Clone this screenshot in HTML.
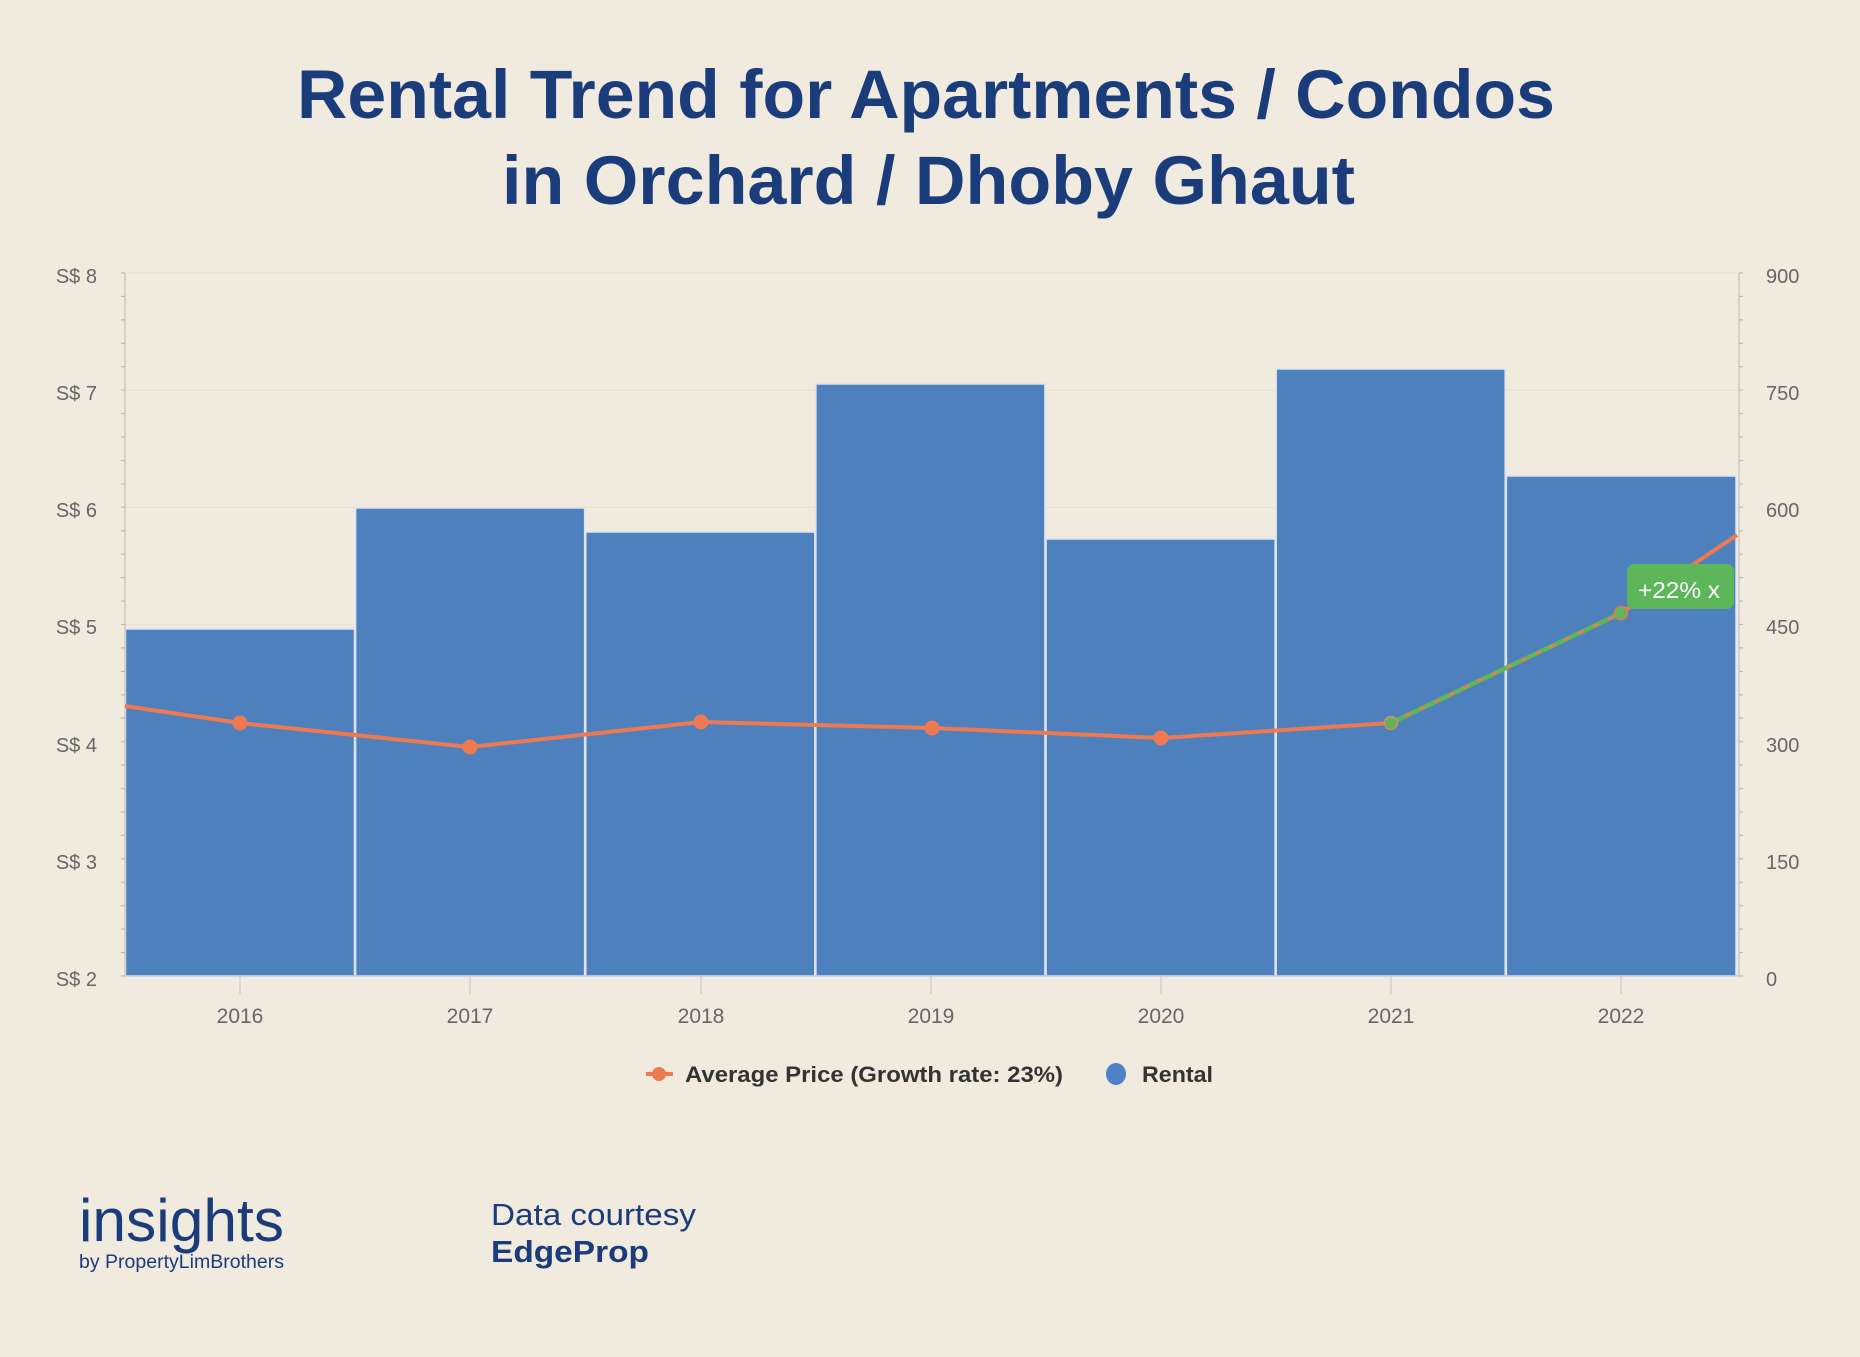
<!DOCTYPE html>
<html><head><meta charset="utf-8"><style>
html,body{margin:0;padding:0;background:#F0EADF;}
svg{display:block;}
</style></head><body>
<svg width="1860" height="1357" viewBox="0 0 1860 1357" xmlns="http://www.w3.org/2000/svg" font-family="'Liberation Sans', sans-serif">
<rect x="0" y="0" width="1860" height="1357" fill="#F0EADF"/>
<!-- Title -->
<text x="297" y="118" font-size="69" font-weight="bold" fill="#1B3C7B" textLength="1258" lengthAdjust="spacingAndGlyphs">Rental Trend for Apartments / Condos</text>
<text x="502" y="204" font-size="69" font-weight="bold" fill="#1B3C7B" textLength="853" lengthAdjust="spacingAndGlyphs">in Orchard / Dhoby Ghaut</text>

<!-- gridlines -->
<g stroke="#E6DFD2" stroke-width="1.2">
<line x1="125" y1="273" x2="1739" y2="273"/>
<line x1="125" y1="390.2" x2="1739" y2="390.2"/>
<line x1="125" y1="507.3" x2="1739" y2="507.3"/>
<line x1="125" y1="624.5" x2="1739" y2="624.5"/>
<line x1="125" y1="741.7" x2="1739" y2="741.7"/>
<line x1="125" y1="858.8" x2="1739" y2="858.8"/>
</g>

<!-- bars -->
<g fill="#4E80BE" stroke="#DCE5F0" stroke-width="1.5">
<rect x="125.5" y="629" width="229" height="347"/>
<rect x="355.6" y="508" width="229" height="468"/>
<rect x="585.8" y="532" width="229" height="444"/>
<rect x="815.9" y="384" width="229" height="592"/>
<rect x="1046.1" y="539" width="229" height="437"/>
<rect x="1276.2" y="369" width="229" height="607"/>
<rect x="1506.4" y="476" width="229.6" height="500"/>
</g>

<!-- axes -->
<g stroke="#C8C6C0" stroke-width="1.3">
<line x1="125" y1="273" x2="125" y2="976"/>
<line x1="1739" y1="273" x2="1739" y2="976"/>
</g>
<g stroke="#BDBAB3" stroke-width="1.2">
<line x1="121" y1="273" x2="125" y2="273"/><line x1="121" y1="296.4" x2="125" y2="296.4"/><line x1="121" y1="319.9" x2="125" y2="319.9"/><line x1="121" y1="343.3" x2="125" y2="343.3"/><line x1="121" y1="366.7" x2="125" y2="366.7"/><line x1="121" y1="390.2" x2="125" y2="390.2"/><line x1="121" y1="413.6" x2="125" y2="413.6"/><line x1="121" y1="437" x2="125" y2="437"/><line x1="121" y1="460.5" x2="125" y2="460.5"/><line x1="121" y1="483.9" x2="125" y2="483.9"/><line x1="121" y1="507.3" x2="125" y2="507.3"/><line x1="121" y1="530.8" x2="125" y2="530.8"/><line x1="121" y1="554.2" x2="125" y2="554.2"/><line x1="121" y1="577.6" x2="125" y2="577.6"/><line x1="121" y1="601.1" x2="125" y2="601.1"/><line x1="121" y1="624.5" x2="125" y2="624.5"/><line x1="121" y1="647.9" x2="125" y2="647.9"/><line x1="121" y1="671.4" x2="125" y2="671.4"/><line x1="121" y1="694.8" x2="125" y2="694.8"/><line x1="121" y1="718.2" x2="125" y2="718.2"/><line x1="121" y1="741.7" x2="125" y2="741.7"/><line x1="121" y1="765.1" x2="125" y2="765.1"/><line x1="121" y1="788.5" x2="125" y2="788.5"/><line x1="121" y1="812" x2="125" y2="812"/><line x1="121" y1="835.4" x2="125" y2="835.4"/><line x1="121" y1="858.8" x2="125" y2="858.8"/><line x1="121" y1="882.3" x2="125" y2="882.3"/><line x1="121" y1="905.7" x2="125" y2="905.7"/><line x1="121" y1="929.1" x2="125" y2="929.1"/><line x1="121" y1="952.6" x2="125" y2="952.6"/><line x1="121" y1="976" x2="125" y2="976"/>
</g>
<g stroke="#BDBAB3" stroke-width="1.2">
<line x1="1739" y1="273" x2="1743" y2="273"/><line x1="1739" y1="296.4" x2="1743" y2="296.4"/><line x1="1739" y1="319.9" x2="1743" y2="319.9"/><line x1="1739" y1="343.3" x2="1743" y2="343.3"/><line x1="1739" y1="366.7" x2="1743" y2="366.7"/><line x1="1739" y1="390.2" x2="1743" y2="390.2"/><line x1="1739" y1="413.6" x2="1743" y2="413.6"/><line x1="1739" y1="437" x2="1743" y2="437"/><line x1="1739" y1="460.5" x2="1743" y2="460.5"/><line x1="1739" y1="483.9" x2="1743" y2="483.9"/><line x1="1739" y1="507.3" x2="1743" y2="507.3"/><line x1="1739" y1="530.8" x2="1743" y2="530.8"/><line x1="1739" y1="554.2" x2="1743" y2="554.2"/><line x1="1739" y1="577.6" x2="1743" y2="577.6"/><line x1="1739" y1="601.1" x2="1743" y2="601.1"/><line x1="1739" y1="624.5" x2="1743" y2="624.5"/><line x1="1739" y1="647.9" x2="1743" y2="647.9"/><line x1="1739" y1="671.4" x2="1743" y2="671.4"/><line x1="1739" y1="694.8" x2="1743" y2="694.8"/><line x1="1739" y1="718.2" x2="1743" y2="718.2"/><line x1="1739" y1="741.7" x2="1743" y2="741.7"/><line x1="1739" y1="765.1" x2="1743" y2="765.1"/><line x1="1739" y1="788.5" x2="1743" y2="788.5"/><line x1="1739" y1="812" x2="1743" y2="812"/><line x1="1739" y1="835.4" x2="1743" y2="835.4"/><line x1="1739" y1="858.8" x2="1743" y2="858.8"/><line x1="1739" y1="882.3" x2="1743" y2="882.3"/><line x1="1739" y1="905.7" x2="1743" y2="905.7"/><line x1="1739" y1="929.1" x2="1743" y2="929.1"/><line x1="1739" y1="952.6" x2="1743" y2="952.6"/><line x1="1739" y1="976" x2="1743" y2="976"/>
</g>

<!-- x axis -->
<line x1="125" y1="976" x2="1739" y2="976" stroke="#BFCFE0" stroke-width="1.5"/>
<g stroke="#CFCCC5" stroke-width="1.3">
<line x1="240" y1="976" x2="240" y2="994"/>
<line x1="470" y1="976" x2="470" y2="994"/>
<line x1="701" y1="976" x2="701" y2="994"/>
<line x1="931" y1="976" x2="931" y2="994"/>
<line x1="1161" y1="976" x2="1161" y2="994"/>
<line x1="1391" y1="976" x2="1391" y2="994"/>
<line x1="1621" y1="976" x2="1621" y2="994"/>
</g>

<!-- left labels -->
<g font-size="20" fill="#666" text-anchor="end">
<text x="97" y="283">S$ 8</text>
<text x="97" y="400">S$ 7</text>
<text x="97" y="517">S$ 6</text>
<text x="97" y="634">S$ 5</text>
<text x="97" y="752">S$ 4</text>
<text x="97" y="869">S$ 3</text>
<text x="97" y="986">S$ 2</text>
</g>
<!-- right labels -->
<g font-size="20" fill="#666">
<text x="1766" y="283">900</text>
<text x="1766" y="400">750</text>
<text x="1766" y="517">600</text>
<text x="1766" y="634">450</text>
<text x="1766" y="752">300</text>
<text x="1766" y="869">150</text>
<text x="1766" y="986">0</text>
</g>
<!-- x labels -->
<g font-size="21" fill="#666" text-anchor="middle">
<text x="240" y="1023">2016</text>
<text x="470" y="1023">2017</text>
<text x="701" y="1023">2018</text>
<text x="931" y="1023">2019</text>
<text x="1161" y="1023">2020</text>
<text x="1391" y="1023">2021</text>
<text x="1621" y="1023">2022</text>
</g>

<!-- line series -->
<polyline points="125,706 240,723 470,747 701,722 932,728 1161,738 1391,723" fill="none" stroke="#EE7A52" stroke-width="4" stroke-linejoin="round"/>
<line x1="1621" y1="613" x2="1737" y2="535" stroke="#EE7A52" stroke-width="4"/>
<line x1="1391" y1="723" x2="1621" y2="613" stroke="#62B556" stroke-width="4.5"/>
<line x1="1391" y1="723" x2="1621" y2="613" stroke="#EE7A52" stroke-width="2.5" stroke-dasharray="6 10"/>
<g fill="#EE7A52">
<circle cx="240" cy="723" r="7.5"/>
<circle cx="470" cy="747" r="7.5"/>
<circle cx="701" cy="722" r="7.5"/>
<circle cx="932" cy="728" r="7.5"/>
<circle cx="1161" cy="738" r="7.5"/>
</g>
<circle cx="1391" cy="723" r="6.5" fill="#62B556" stroke="#D8896A" stroke-width="1.5"/>
<circle cx="1621" cy="613" r="6.5" fill="#62B556" stroke="#E07B5A" stroke-width="1.5"/>

<!-- growth label -->
<rect x="1627" y="564" width="107" height="45" rx="7" fill="#5DB65A"/>
<text x="1638" y="598" font-size="23" fill="#FFFFFF" textLength="82" lengthAdjust="spacingAndGlyphs">+22% x</text>

<!-- legend -->
<line x1="646" y1="1074" x2="673" y2="1074" stroke="#EE7A52" stroke-width="4"/>
<circle cx="659" cy="1074" r="7" fill="#EE7A52"/>
<text x="685" y="1082" font-size="22" font-weight="bold" fill="#333" textLength="378" lengthAdjust="spacingAndGlyphs">Average Price (Growth rate: 23%)</text>
<ellipse cx="1116" cy="1074" rx="10" ry="11" fill="#4E80C8"/>
<text x="1142" y="1082" font-size="22" font-weight="bold" fill="#333" textLength="71" lengthAdjust="spacingAndGlyphs">Rental</text>

<!-- footer -->
<text x="79" y="1241" font-size="60" fill="#1B3C7B" textLength="205" lengthAdjust="spacingAndGlyphs">insights</text>
<text x="79" y="1268" font-size="19" fill="#1B3C7B" textLength="205" lengthAdjust="spacingAndGlyphs">by PropertyLimBrothers</text>
<text x="491" y="1225" font-size="31" fill="#1B3C7B" textLength="205" lengthAdjust="spacingAndGlyphs">Data courtesy</text>
<text x="491" y="1262" font-size="31" font-weight="bold" fill="#1B3C7B" textLength="158" lengthAdjust="spacingAndGlyphs">EdgeProp</text>
</svg>
</body></html>
